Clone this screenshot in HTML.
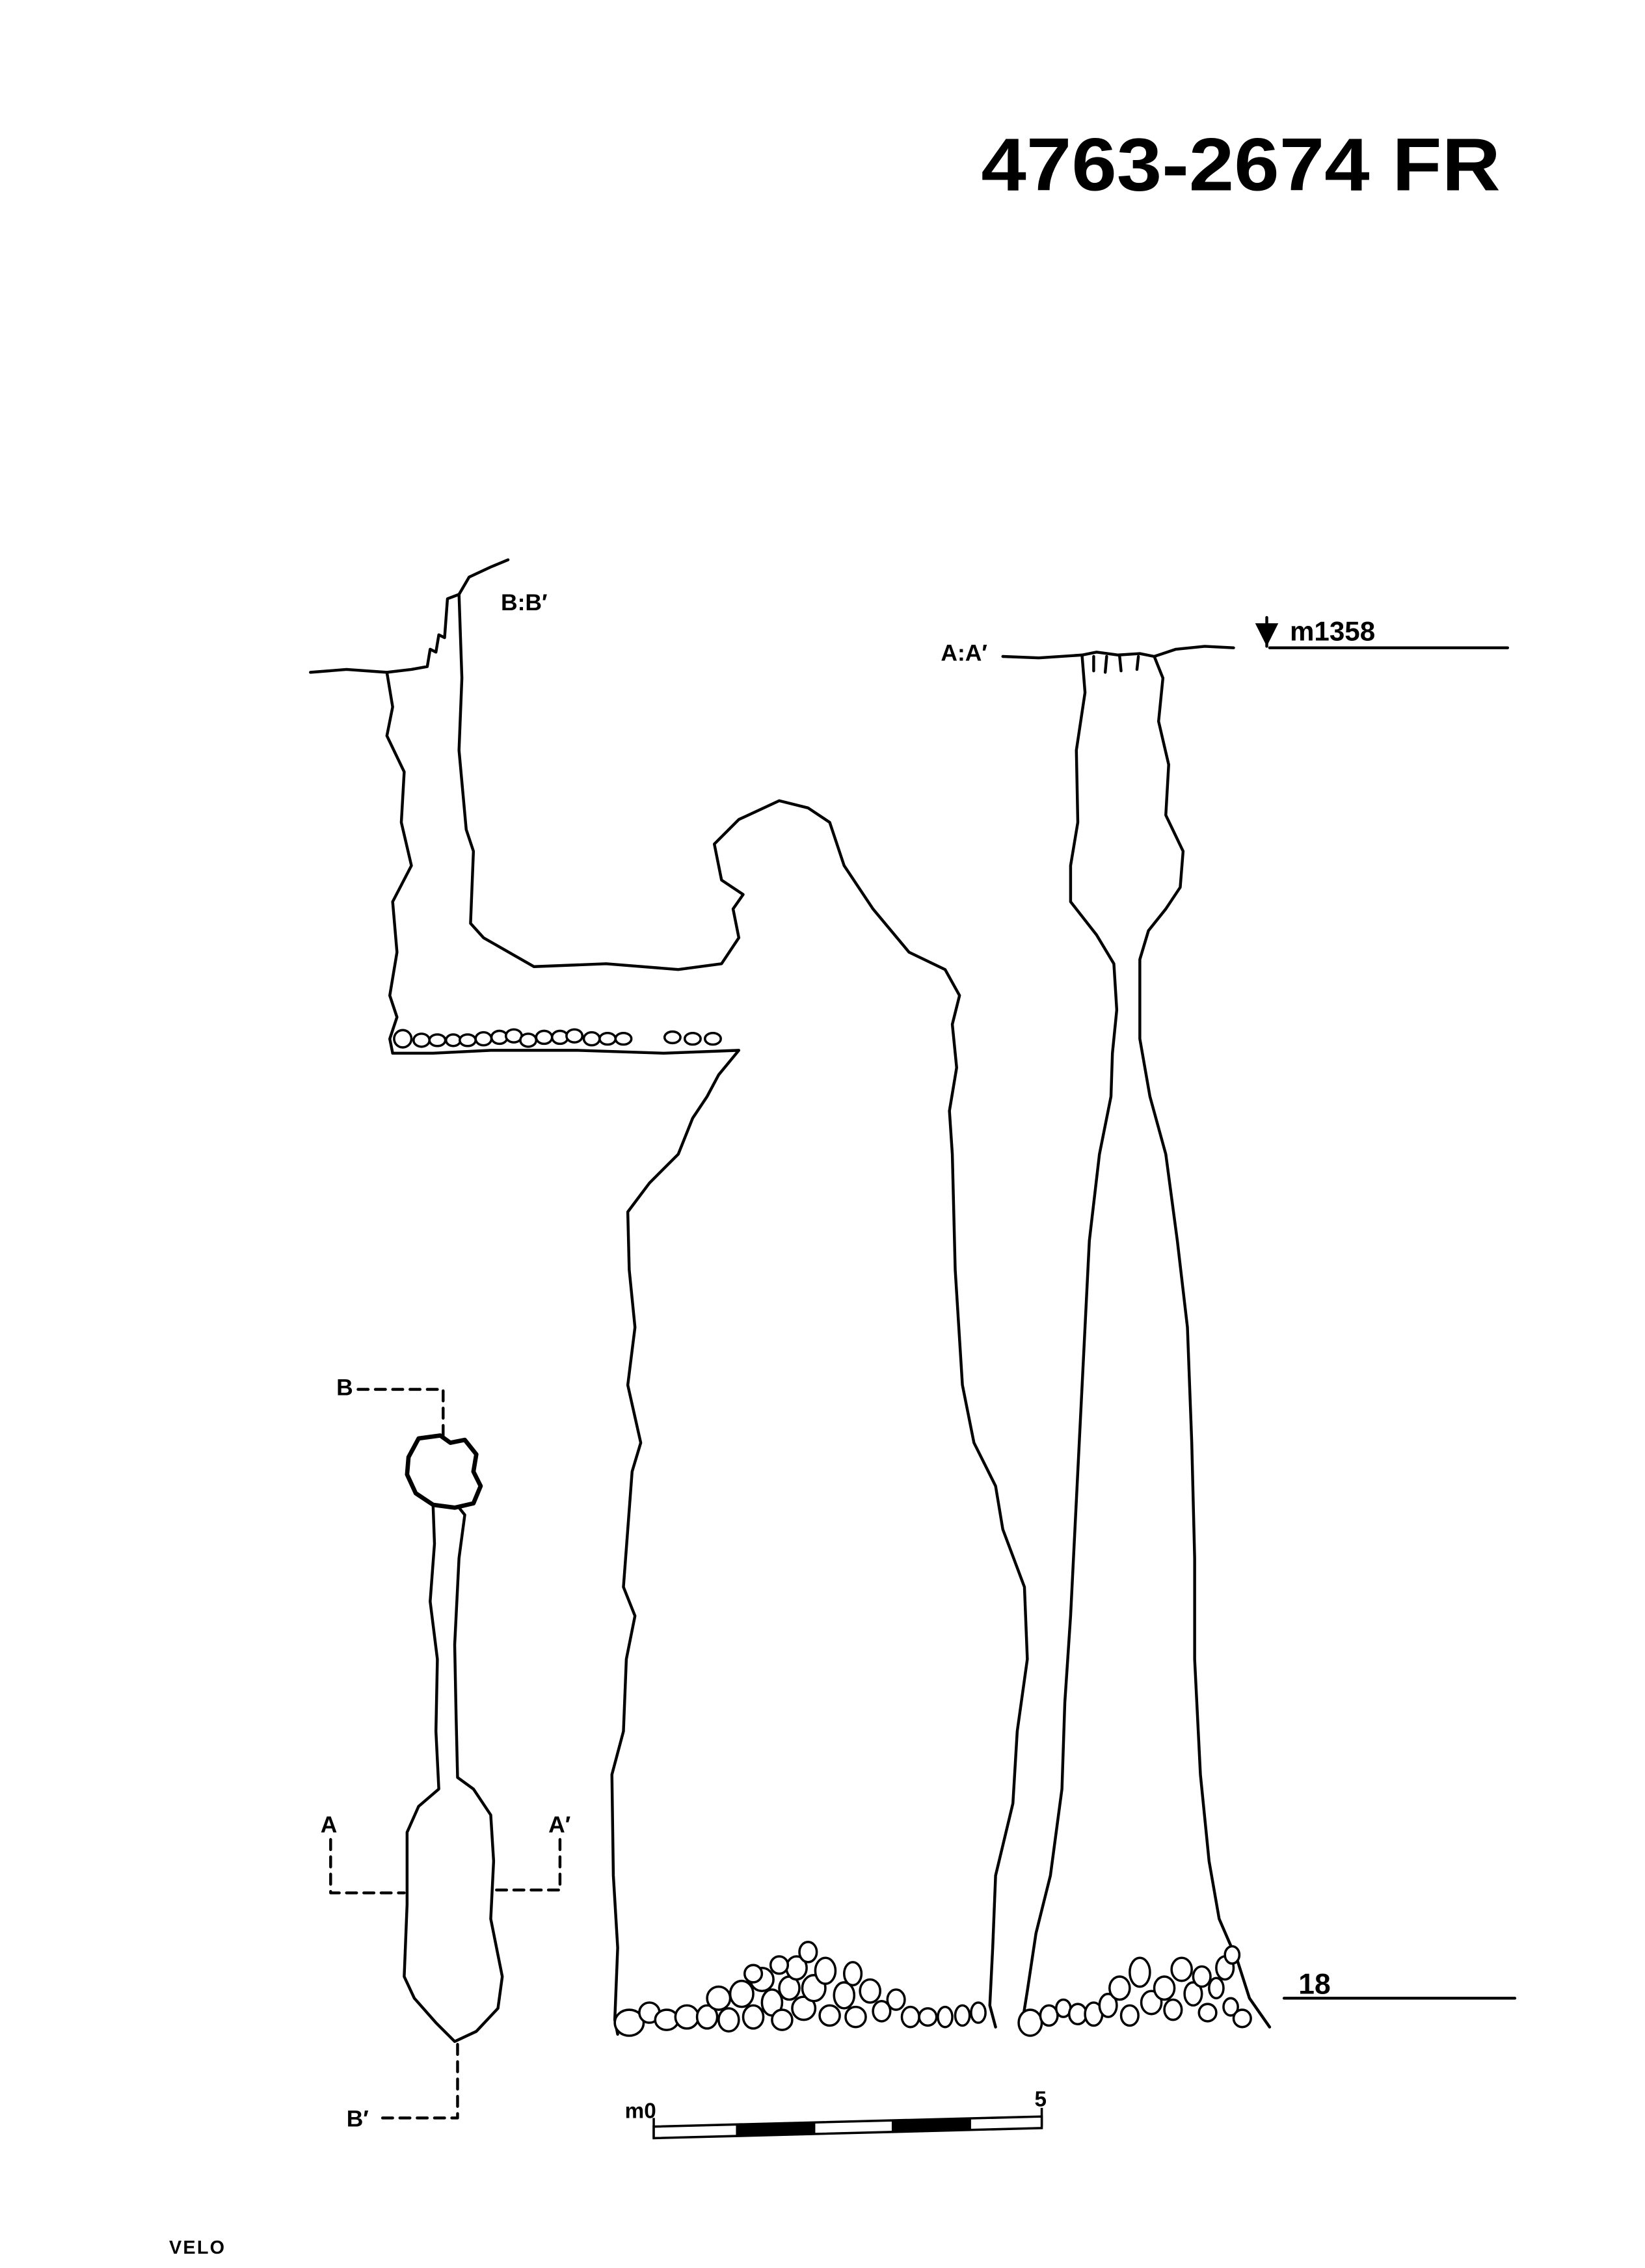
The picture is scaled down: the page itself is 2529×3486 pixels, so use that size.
<!DOCTYPE html>
<html><head><meta charset="utf-8"><style>
html,body{margin:0;padding:0;background:#fff;}
svg{display:block;}
text{font-family:"Liberation Sans",sans-serif;font-weight:bold;fill:#000;}
</style></head><body>
<svg width="2529" height="3486" viewBox="0 0 1140 1572" xmlns="http://www.w3.org/2000/svg">
<rect width="1140" height="1572" fill="#fff"/>
<text x="680" y="132" font-size="52" textLength="360" lengthAdjust="spacingAndGlyphs">4763-2674 FR</text>
<g fill="none" stroke="#000" stroke-width="2" stroke-linejoin="round" stroke-linecap="round">
<path d="M215,466 L240,464 L268,466 L285,464 L296,462 L298,450 L302,452 L304,440 L308,442 L310,415 L318,412 L325,400 L340,393 L352,388"/>
<path d="M268,466 L272,490 L268,510 L280,535 L278,570 L285,600 L272,625 L275,660 L270,690 L275,705 L270,720 L272,730"/>
<path d="M318,412 L320,470 L318,520 L323,575 L328,590 L326,640 L335,650 L370,670 L420,668 L470,672 L500,668 L512,650 L508,630 L515,620 L500,610 L495,585 L512,568 L540,555 L560,560 L575,570 L585,600 L605,630 L630,660 L655,672 L665,690 L660,710 L663,740 L658,770 L660,800 L662,880 L667,960 L675,1000 L690,1030 L695,1060 L710,1100 L712,1150 L705,1200 L702,1250 L690,1300 L688,1350 L686,1390 L690,1405"/>
<path d="M272,730 L300,730 L340,728 L400,728 L460,730 L512,728 L498,745 L490,760 L480,775 L470,800 L450,820 L435,840 L436,880 L440,920 L435,960 L444,1000 L438,1020 L435,1060 L432,1100 L440,1120 L434,1150 L432,1200 L424,1230 L425,1300 L428,1350 L426,1400 L428,1410"/>
<path d="M695,455 L720,456 L750,454 L760,452 L775,454 L790,453 L800,455 L815,450 L835,448 L855,449"/>
<path d="M758,455 L758,465 M767,455 L766,466 M776,455 L777,465 M789,455 L788,464"/>
<path d="M750,455 L752,480 L746,520 L747,570 L742,600 L742,625 L760,648 L772,668 L774,700 L771,730 L770,760 L762,800 L755,860 L752,920 L748,1000 L745,1060 L742,1120 L738,1180 L736,1240 L728,1300 L718,1340 L712,1380 L708,1405"/>
<path d="M800,455 L806,470 L803,500 L810,530 L808,565 L820,590 L818,615 L808,630 L796,645 L790,665 L790,720 L797,760 L808,800 L816,860 L823,920 L826,1000 L828,1080 L828,1150 L832,1230 L838,1290 L845,1330 L858,1360 L866,1385 L880,1405"/>
<path stroke-width="3" d="M290,997 L305,995 L312,1000 L322,998 L330,1008 L328,1020 L333,1030 L328,1042 L315,1045 L300,1043 L288,1035 L282,1022 L283,1010 Z"/>
<path d="M300,1043 L301,1070 L298,1110 L303,1150 L302,1200 L304,1240 L290,1252 L282,1270 L282,1320 L280,1370 L287,1385 L302,1402 L315,1415 L330,1408 L345,1392 L348,1370 L340,1330 L342,1290 L340,1258 L328,1240 L317,1232 L316,1190 L315,1140 L318,1080 L322,1050 L318,1045"/>
<path stroke-dasharray="7,5" d="M248,963 L307,963 L307,995 M317,1417 L317,1468 L262,1468 M229,1275 L229,1312 L280,1312 M388,1275 L388,1310 L344,1310"/>
<path d="M880,449 L1045,449 M890,1385 L1050,1385 M878,428 L878,448"/>
</g>
<path d="M870,432 L886,432 L878,448 Z" fill="#000"/>
<g fill="#fff" stroke="#000" stroke-width="1.6">
<ellipse cx="279" cy="720" rx="6" ry="6"/><ellipse cx="292" cy="721" rx="5.5" ry="4.5"/><ellipse cx="303" cy="721" rx="5.5" ry="4"/><ellipse cx="314" cy="721" rx="5" ry="4"/><ellipse cx="324" cy="721" rx="5.5" ry="4"/><ellipse cx="335" cy="720" rx="5.5" ry="4.5"/><ellipse cx="346" cy="719" rx="5.5" ry="4.5"/><ellipse cx="356" cy="718" rx="5.5" ry="4.5"/><ellipse cx="366" cy="721" rx="5.5" ry="4.5"/><ellipse cx="377" cy="719" rx="5.5" ry="4.5"/><ellipse cx="388" cy="719" rx="5.5" ry="4.5"/><ellipse cx="398" cy="718" rx="5.5" ry="4.5"/><ellipse cx="410" cy="720" rx="5.5" ry="4.5"/><ellipse cx="421" cy="720" rx="5.5" ry="4"/><ellipse cx="432" cy="720" rx="5.5" ry="4"/><ellipse cx="466" cy="719" rx="5.5" ry="4"/><ellipse cx="480" cy="720" rx="5.5" ry="4"/><ellipse cx="494" cy="720" rx="5.5" ry="4"/>
<ellipse cx="436" cy="1402" rx="10" ry="9"/><ellipse cx="450" cy="1395" rx="7" ry="7"/><ellipse cx="462" cy="1400" rx="8" ry="7"/><ellipse cx="476" cy="1398" rx="8" ry="8"/><ellipse cx="490" cy="1398" rx="7" ry="8"/><ellipse cx="498" cy="1385" rx="8" ry="8"/><ellipse cx="505" cy="1400" rx="7" ry="8"/><ellipse cx="514" cy="1382" rx="8" ry="9"/><ellipse cx="522" cy="1398" rx="7" ry="8"/><ellipse cx="528" cy="1372" rx="8" ry="8"/><ellipse cx="535" cy="1388" rx="7" ry="9"/><ellipse cx="542" cy="1400" rx="7" ry="7"/><ellipse cx="547" cy="1378" rx="7" ry="8"/><ellipse cx="552" cy="1364" rx="7" ry="8"/><ellipse cx="557" cy="1392" rx="8" ry="8"/><ellipse cx="564" cy="1378" rx="8" ry="9"/><ellipse cx="572" cy="1366" rx="7" ry="9"/><ellipse cx="575" cy="1397" rx="7" ry="7"/><ellipse cx="585" cy="1383" rx="7" ry="9"/><ellipse cx="591" cy="1368" rx="6" ry="8"/><ellipse cx="593" cy="1398" rx="7" ry="7"/><ellipse cx="603" cy="1380" rx="7" ry="8"/><ellipse cx="611" cy="1394" rx="6" ry="7"/><ellipse cx="621" cy="1386" rx="6" ry="7"/><ellipse cx="631" cy="1398" rx="6" ry="7"/><ellipse cx="643" cy="1398" rx="6" ry="6"/><ellipse cx="655" cy="1398" rx="5" ry="7"/><ellipse cx="667" cy="1397" rx="5" ry="7"/><ellipse cx="678" cy="1395" rx="5" ry="7"/><ellipse cx="540" cy="1362" rx="6" ry="6"/><ellipse cx="560" cy="1353" rx="6" ry="7"/><ellipse cx="522" cy="1368" rx="6" ry="6"/>
<ellipse cx="714" cy="1402" rx="8" ry="9"/><ellipse cx="727" cy="1397" rx="6" ry="7"/><ellipse cx="737" cy="1392" rx="5" ry="6"/><ellipse cx="747" cy="1396" rx="6" ry="7"/><ellipse cx="758" cy="1396" rx="6" ry="8"/><ellipse cx="768" cy="1390" rx="6" ry="8"/><ellipse cx="776" cy="1378" rx="7" ry="8"/><ellipse cx="783" cy="1397" rx="6" ry="7"/><ellipse cx="790" cy="1367" rx="7" ry="10"/><ellipse cx="798" cy="1388" rx="7" ry="8"/><ellipse cx="807" cy="1378" rx="7" ry="8"/><ellipse cx="813" cy="1393" rx="6" ry="7"/><ellipse cx="819" cy="1365" rx="7" ry="8"/><ellipse cx="827" cy="1382" rx="6" ry="8"/><ellipse cx="833" cy="1370" rx="6" ry="7"/><ellipse cx="837" cy="1395" rx="6" ry="6"/><ellipse cx="843" cy="1378" rx="5" ry="7"/><ellipse cx="849" cy="1364" rx="6" ry="8"/><ellipse cx="853" cy="1391" rx="5" ry="6"/><ellipse cx="861" cy="1399" rx="6" ry="6"/><ellipse cx="854" cy="1355" rx="5" ry="6"/>
</g>
<path d="M453,1468 L453,1482 M722,1461 L722,1474" fill="none" stroke="#000" stroke-width="1.6"/>
<path d="M453,1474 L722,1467 L722,1475 L453,1482 Z" fill="#fff" stroke="#000" stroke-width="1.6"/>
<path d="M510,1472.5 L565,1471 L565,1479 L510,1480.5 Z M618,1469.5 L673,1468 L673,1476 L618,1477.5 Z" fill="#000"/>
<text x="433" y="1468" font-size="15">m0</text>
<text x="717" y="1460" font-size="15">5</text>
<text x="347" y="423" font-size="16">B:B′</text>
<text x="652" y="458" font-size="16">A:A′</text>
<text x="894" y="444" font-size="19">m1358</text>
<text x="900" y="1382" font-size="20">18</text>
<text x="233" y="967" font-size="16">B</text>
<text x="222" y="1270" font-size="16">A</text>
<text x="380" y="1270" font-size="16">A′</text>
<text x="240" y="1474" font-size="16">B′</text>
<text x="117" y="1562" font-size="13" letter-spacing="1">VELO</text>
</svg>
</body></html>
